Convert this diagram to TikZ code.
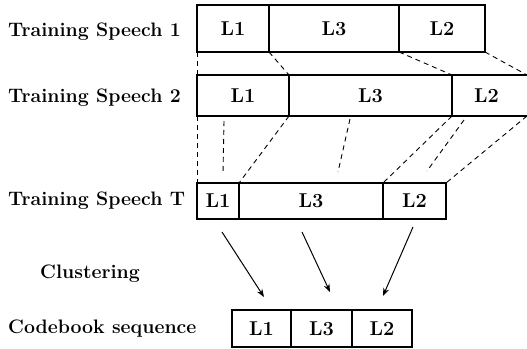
\documentclass[tikz,border=0pt]{standalone}
\usetikzlibrary{arrows.meta}
\begin{document}
\begin{tikzpicture}[x=1pt,y=-1pt,
  lab/.style={font=\fontsize{19.5}{22}\selectfont\bfseries, anchor=base west, inner sep=0pt},
  seg/.style={draw, line width=1.1pt, inner sep=0pt, outer sep=0pt, anchor=north west,
    font=\fontsize{20}{22}\selectfont\bfseries},
  dsh/.style={line width=0.9pt, dash pattern=on 5pt off 4pt},
  arr/.style={line width=1pt, -{Stealth[length=8pt,width=6pt]}}]
\useasboundingbox (0,0) rectangle (527,348);
% labels
\node[lab] (l1) at (8,36) {Training Speech 1};
\node[lab] (l2) at (8,102) {Training Speech 2};
\node[lab] (lT) at (8,205) {Training Speech T};
\node[lab] (lc) at (40,278) {Clustering};
\node[lab] (lq) at (8,333) {Codebook sequence};
% row 1
\node[seg, minimum width=72pt, minimum height=47pt] (a1) at (197,5) {L1};
\node[seg, minimum width=130pt, minimum height=47pt] (a2) at (269,5) {L3};
\node[seg, minimum width=86pt, minimum height=47pt] (a3) at (399,5) {L2};
% row 2
\node[seg, minimum width=92pt, minimum height=41pt] (b1) at (197,75) {L1};
\node[seg, minimum width=163pt, minimum height=41pt] (b2) at (289,75) {L3};
\node[seg, draw=none, minimum width=75pt, minimum height=41pt] (b3) at (452,75) {\hspace*{-6pt}L2};
\draw[line width=1.1pt] (b3.north west) -- (b3.north east) (b3.south west) -- (b3.south east);
% row T
\node[seg, minimum width=42pt, minimum height=36pt] (t1) at (197,183) {L1};
\node[seg, minimum width=144pt, minimum height=36pt] (t2) at (239,183) {L3};
\node[seg, minimum width=63pt, minimum height=36pt] (t3) at (383,183) {L2};
% codebook
\node[seg, minimum width=59pt, minimum height=37pt] (c1) at (232,310) {L1};
\node[seg, minimum width=61pt, minimum height=37pt] (c2) at (291,310) {L3};
\node[seg, minimum width=60pt, minimum height=37pt] (c3) at (352,310) {L2};
% dashed, row 1 -> row 2
\draw[dsh] (a1.south west) -- (b1.north west);
\draw[dsh] (a1.south east) -- (b1.north east);
\draw[dsh] (a2.south east) -- (b2.north east);
\draw[dsh] (a3.south east) -- (b3.north east);
% dashed, row 2 -> row T
\draw[dsh] (b1.south west) -- (t1.north west);
\draw[dsh] (b1.south east) -- (t1.north east);
\draw[dsh] (b2.south east) -- (t2.north east);
\draw[dsh] (b3.south east) -- (t3.north east);
\coordinate (d1a) at (224,121); \coordinate (d1b) at (223,173);
\coordinate (d2a) at (350,119); \coordinate (d2b) at (338,172);
\coordinate (d3a) at (464,120); \coordinate (d3b) at (427,171);
\draw[dsh] (d1a) -- (d1b);
\draw[dsh] (d2a) -- (d2b);
\draw[dsh] (d3a) -- (d3b);
% arrows
\coordinate (s1) at (222,232); \coordinate (e1) at (264,297);
\coordinate (s2) at (302,232); \coordinate (e2) at (330,292);
\coordinate (s3) at (413,227); \coordinate (e3) at (383,296);
\draw[arr] (s1) -- (e1);
\draw[arr] (s2) -- (e2);
\draw[arr] (s3) -- (e3);
\end{tikzpicture}
\end{document}
